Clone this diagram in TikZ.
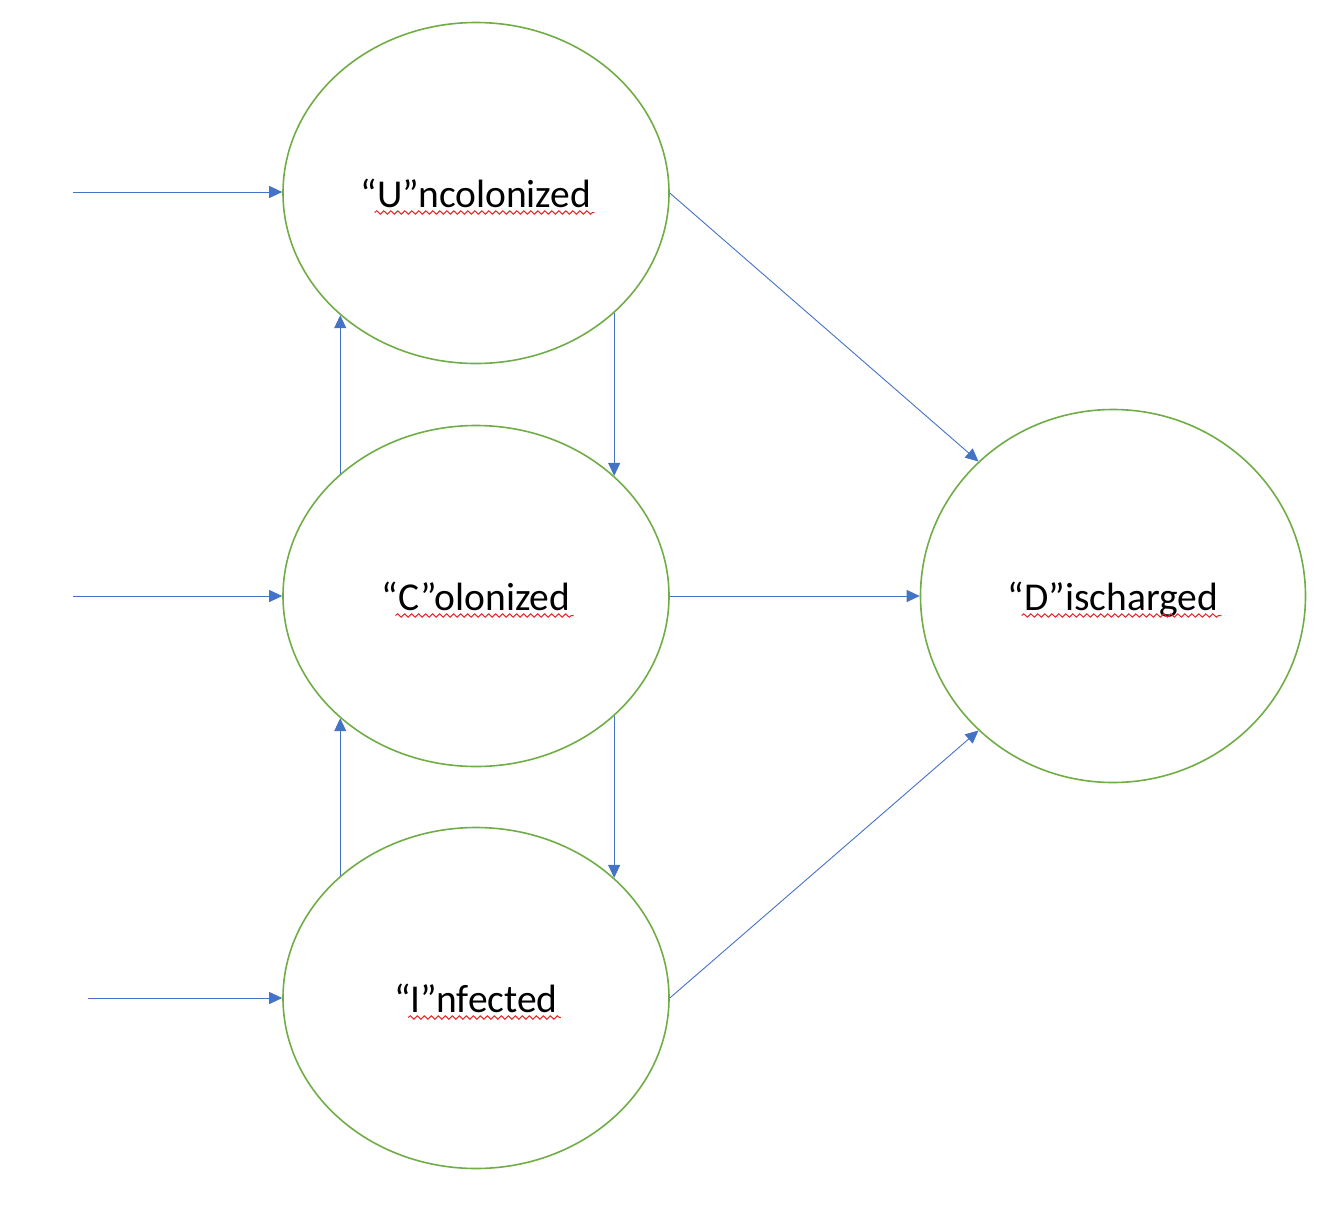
\documentclass[tikz,border=0pt]{standalone}
\usepackage{fontspec}
\setmainfont{Carlito}
\usetikzlibrary{arrows.meta,shapes.geometric,decorations.pathmorphing}
\definecolor{egreen}{RGB}{112,173,71}
\definecolor{ablue}{RGB}{68,114,196}
\definecolor{sred}{RGB}{230,40,40}
\begin{document}
\begin{tikzpicture}[x=1pt,y=-1pt,
  state/.style={ellipse,draw=egreen,line width=1.6pt,minimum width=386pt,minimum height=341pt,inner sep=0pt},
  lbl/.style={anchor=base,inner sep=0pt,font=\fontsize{39.5}{44}\selectfont},
  conn/.style={draw=ablue,line width=0.9pt,-{Triangle[length=13pt,width=12pt]}},
  spell/.style={draw=sred,line width=1pt,decorate,decoration={snake,segment length=7pt,amplitude=1.7pt}}]
\useasboundingbox (0,0) rectangle (1334,1218);
\node[state] (U) at (476,193) {};
\node[state] (C) at (476,596) {};
\node[state] (I) at (476,998) {};
\node[state,minimum width=385pt,minimum height=373pt] (D) at (1113,596) {};
\node[lbl,yshift=-14pt] (Ut) at (U.center) {“U”ncolonized};
\node[lbl,yshift=-14pt] (Ct) at (C.center) {“C”olonized};
\node[lbl,yshift=-14pt] (It) at (I.center) {“I”nfected};
\node[lbl,yshift=-14pt] (Dt) at (D.center) {“D”ischarged};
\foreach \n in {Ut,Ct,It,Dt}{
  \draw[spell] ([xshift=14pt,yshift=-5.5pt]\n.base west) -- ([xshift=3pt,yshift=-5.5pt]\n.base east);
}
\coordinate (inU) at (73,192);
\coordinate (inC) at (73,596);
\coordinate (inI) at (88,998);
\draw[conn] (inU) -- (U.west |- inU);
\draw[conn] (inC) -- (C.west);
\draw[conn] (inI) -- (I.west);
\draw[conn] (U.-41.2) -- (C.41.2);
\draw[conn] (C.138) -- (U.-138);
\draw[conn] (C.-41.2) -- (I.41.2);
\draw[conn] (I.138) -- (C.-138);
\draw[conn] (U.east) -- (D.135.4);
\draw[conn] (C.east) -- (D.west);
\draw[conn] (I.east) -- (D.-135.4);
\end{tikzpicture}
\end{document}
